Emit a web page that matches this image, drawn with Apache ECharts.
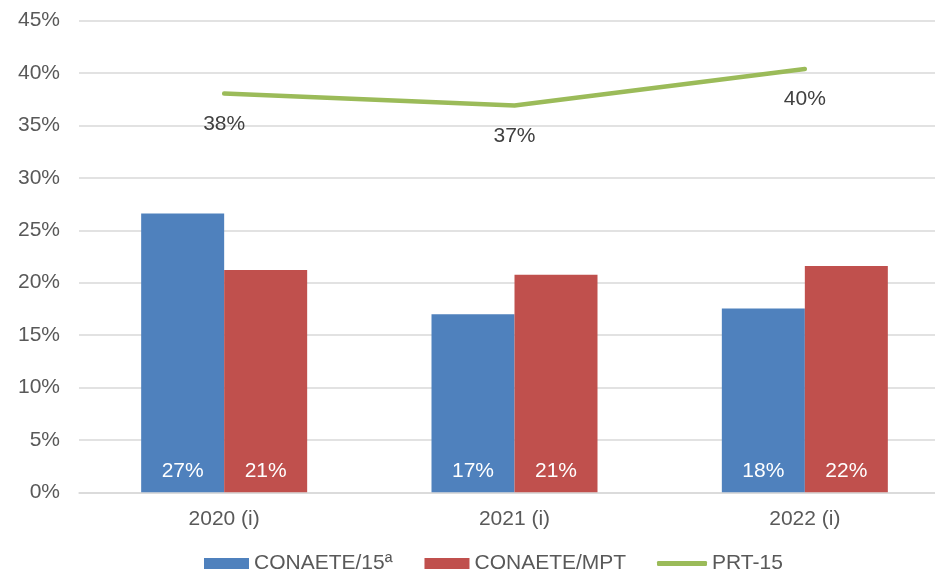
<!DOCTYPE html>
<html>
<head>
<meta charset="utf-8">
<script src="https://cdn.jsdelivr.net/npm/echarts@6/dist/echarts.min.js"></script>
<style>
html,body{margin:0;padding:0;background:#fff;overflow:hidden;width:935px;height:574px;}
#chart{width:951px;height:574px;}
</style>
</head>
<body>
<div id="chart"></div>
<script>
var categories = ['2020 (i)', '2021 (i)', '2022 (i)'];
var conaete15 = [26.6, 17.0, 17.55];
var conaeteMPT = [21.2, 20.75, 21.6];
var prt15 = [38.05, 36.9, 40.4];
var yTicks = [0, 5, 10, 15, 20, 25, 30, 35, 40, 45];
var seriesNames = ['CONAETE/15ª', 'CONAETE/MPT', 'PRT-15'];

var FONT = "'Liberation Sans', Arial, sans-serif";
var chart = echarts.init(document.getElementById('chart'), null, {renderer: 'canvas'});
var legendText = {fontFamily: FONT, fontSize: 21, color: '#595959'};
var option = {
  animation: false,
  backgroundColor: '#ffffff',
  textStyle: {fontFamily: FONT},
  grid: {left: 79, top: 20.7, width: 871, height: 471.6, containLabel: false},
  legend: [{
    left: 204,
    top: 553,
    padding: 0,
    itemWidth: 45,
    itemHeight: 11,
    itemGap: 32,
    textStyle: legendText,
    data: [
      {name: seriesNames[0], icon: 'rect'},
      {name: seriesNames[1], icon: 'rect'}
    ]
  }, {
    left: 657,
    top: 553,
    padding: 0,
    itemWidth: 50,
    itemHeight: 5,
    textStyle: legendText,
    data: [{name: seriesNames[2], icon: 'roundRect'}]
  }],
  xAxis: {
    type: 'category',
    data: categories,
    axisLine: {show: true, lineStyle: {color: '#D9D9D9', width: 1.5}},
    axisTick: {show: false},
    axisLabel: {fontFamily: FONT, fontSize: 21, color: '#595959', margin: 16}
  },
  yAxis: {
    type: 'value',
    min: yTicks[0],
    max: yTicks[yTicks.length - 1],
    interval: 5,
    axisLine: {show: false},
    axisTick: {show: false},
    splitLine: {lineStyle: {color: '#D9D9D9', width: 1.5}},
    axisLabel: {fontFamily: FONT, fontSize: 21, color: '#595959', margin: 19,
      formatter: function (v) { return v + '%'; }}
  },
  series: [
    {
      name: seriesNames[0], type: 'bar', data: conaete15,
      barWidth: 83, barGap: '0%',
      itemStyle: {color: '#4F81BD'},
      label: {show: true, position: 'insideBottom', distance: 11, color: '#ffffff',
        fontFamily: FONT, fontSize: 21,
        formatter: function (p) { return Math.round(p.value) + '%'; }}
    },
    {
      name: seriesNames[1], type: 'bar', data: conaeteMPT,
      barWidth: 83, barGap: '0%',
      itemStyle: {color: '#C0504D'},
      label: {show: true, position: 'insideBottom', distance: 11, color: '#ffffff',
        fontFamily: FONT, fontSize: 21,
        formatter: function (p) { return Math.round(p.value) + '%'; }}
    },
    {
      name: seriesNames[2], type: 'line', data: prt15,
      symbol: 'circle', symbolSize: 0.1, showSymbol: true,
      lineStyle: {color: '#9BBB59', width: 4.5, cap: 'round', join: 'round'},
      itemStyle: {color: '#9BBB59'},
      label: {show: true, position: 'bottom', distance: 20, color: '#404040',
        fontFamily: FONT, fontSize: 21,
        formatter: function (p) { return Math.round(p.value) + '%'; }}
    }
  ]
};
chart.setOption(option);
</script>
</body>
</html>
